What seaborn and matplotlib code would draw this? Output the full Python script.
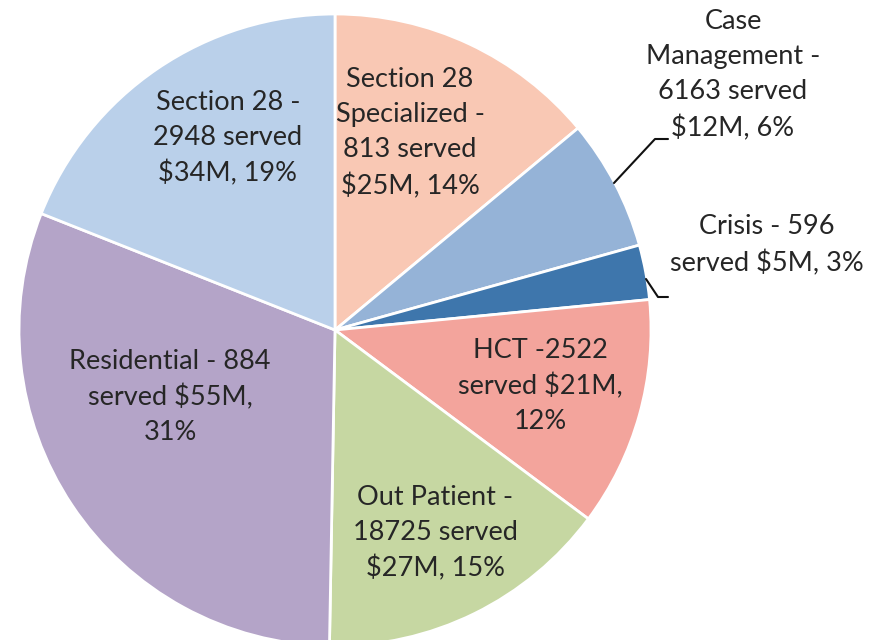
import matplotlib
matplotlib.use("Agg")
import matplotlib.pyplot as plt
import seaborn as sns

sns.set_theme(style="white")
plt.rcParams['font.family'] = ['Lato', 'DejaVu Sans']

categories = ["Section 28 Specialized", "Case Management", "Crisis", "HCT",
              "Out Patient", "Residential", "Section 28"]
dollars_m = [25, 12, 5, 21, 27, 55, 34]
labels = [
    "Section 28\nSpecialized -\n813 served\n$25M, 14%",
    "Case\nManagement -\n6163 served\n$12M, 6%",
    "Crisis - 596\nserved $5M, 3%",
    "HCT -2522\nserved $21M,\n12%",
    "Out Patient -\n18725 served\n$27M, 15%",
    "Residential - 884\nserved $55M,\n31%",
    "Section 28 -\n2948 served\n$34M, 19%",
]
colors = ["#F9C8B4", "#95B3D7", "#3E76AC", "#F3A49C", "#C6D7A2", "#B4A4C8", "#BAD0EA"]

W, H = 873, 640
CX, CY, R = 335, 330, 316

def px(x, y):
    return (x - CX) / R, (CY - y) / R

fig = plt.figure(figsize=(W / 100, H / 100), dpi=100)
ax = fig.add_axes([0, 0, 1, 1])
ax.pie(dollars_m, colors=colors, startangle=90, counterclock=False,
       wedgeprops=dict(edgecolor="white", linewidth=2))
ax.set_xlim((0 - CX) / R, (W - CX) / R)
ax.set_ylim((CY - H) / R, CY / R)
ax.set_aspect('auto')
ax.axis('off')

label_pos = [(410, 133), (733, 75), (767, 245), (540, 386), (435, 533), (170, 397), (228, 138)]
for lab, (x, y) in zip(labels, label_pos):
    dx, dy = px(x, y)
    ax.text(dx, dy, lab, ha="center", va="center", fontsize=19.5, color="#262626",
            linespacing=1.5)

# leader lines
for pts in [[(614, 183), (655, 139), (668, 139)], [(646, 279), (658, 297), (668, 297)]]:
    xs, ys = zip(*[px(*p) for p in pts])
    ax.plot(xs, ys, color="#111111", linewidth=1.5)

fig.savefig("out.png", dpi=100)
